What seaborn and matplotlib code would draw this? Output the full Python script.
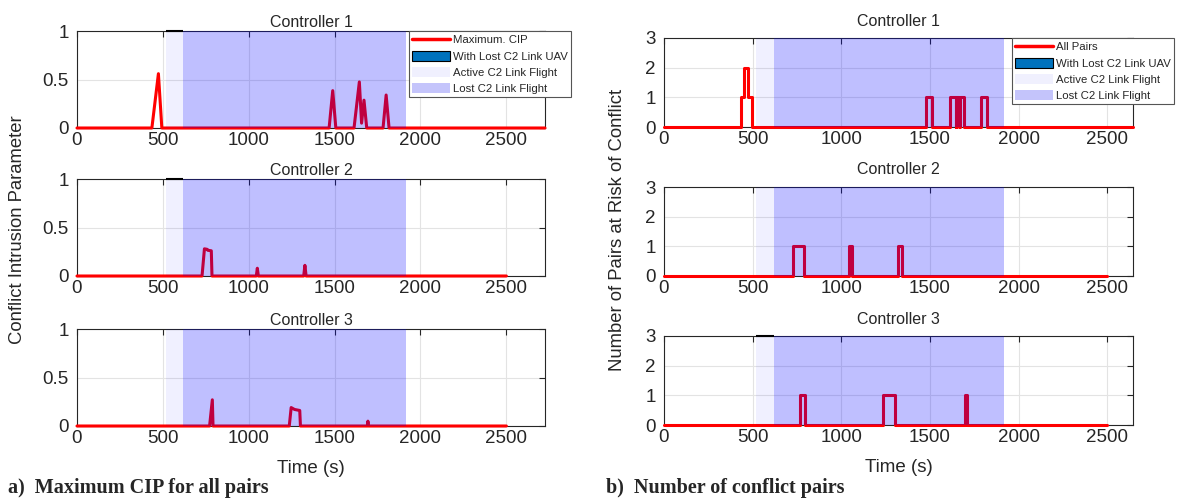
import matplotlib
matplotlib.use("Agg")
import matplotlib.pyplot as plt
from matplotlib.lines import Line2D
from matplotlib.patches import Patch
import seaborn as sns
import pandas as pd

# Flight phases (s)
active_start = 520
lost_start = 620
lost_end = 1916

# a) maximum CIP per controller
cip_t1 = [0, 436, 474, 494, 1468, 1489, 1507, 1613, 1644, 1657, 1671, 1687, 1782, 1800, 1817, 2725]
cip_v1 = [0, 0, 0.56, 0, 0, 0.385, 0, 0, 0.475, 0.05, 0.287, 0, 0, 0.34, 0, 0]
cip_t2 = [0, 728, 742, 758, 762, 782, 786, 1044, 1050, 1056, 1320, 1327, 1334, 2500]
cip_v2 = [0, 0, 0.28, 0.275, 0.265, 0.26, 0, 0, 0.08, 0, 0, 0.11, 0, 0]
cip_t3 = [0, 772, 788, 792, 1236, 1247, 1262, 1268, 1297, 1301, 1690, 1694, 1698, 2500]
cip_v3 = [0, 0, 0.27, 0, 0, 0.19, 0.175, 0.17, 0.16, 0, 0, 0.05, 0, 0]

# b) number of pairs at risk (step changes)
pairs_t1 = [0, 436, 450, 472, 498, 1479, 1513, 1615, 1644, 1648, 1664, 1668, 1692, 1787, 1821, 2645]
pairs_n1 = [0, 1, 2, 1, 0, 1, 0, 1, 0, 1, 0, 1, 0, 1, 0, 0]
pairs_t2 = [0, 728, 790, 1041, 1058, 1320, 1341, 2500]
pairs_n2 = [0, 1, 0, 1, 0, 1, 0, 0]
pairs_t3 = [0, 767, 795, 1235, 1305, 1695, 1708, 2500]
pairs_n3 = [0, 1, 0, 1, 0, 1, 0, 0]

titles = ["Controller 1", "Controller 2", "Controller 3"]
xticks = [0, 500, 1000, 1500, 2000, 2500]

sns.set_style("white")
plt.rcParams['font.family'] = ['Liberation Sans', 'DejaVu Sans']

RED = "#ff0000"
LOST = (0, 0, 1, 0.25)
ACTIVE = (0, 0, 1, 0.06)

fig = plt.figure(figsize=(11.82, 5.01), dpi=100)
W, H = 1182, 501

def px_axes(x0, top, w, h):
    return fig.add_axes([x0 / W, 1 - (top + h) / H, w / W, h / H])

def style(ax, xmax, yticks, ylabels, title, show_black, title_pad):
    ax.axvspan(active_start, lost_start, color=ACTIVE, lw=0, zorder=3)
    ax.axvspan(lost_start, lost_end, color=LOST, lw=0, zorder=3)
    if show_black:
        ax.hlines(yticks[-1], active_start, lost_start, color="black", lw=1.5, zorder=4, clip_on=False)
    ax.set_xlim(0, xmax)
    ax.set_ylim(yticks[0], yticks[-1])
    ax.set_xticks(xticks)
    ax.set_xticklabels([str(v) for v in xticks])
    ax.set_yticks(yticks)
    ax.set_yticklabels(ylabels)
    ax.grid(True, color="#e3e3e3", lw=0.8)
    ax.set_axisbelow(True)
    ax.tick_params(direction="in", top=True, right=True, length=4, width=0.8,
                   labelsize=13.5, colors="#262626")
    ax.tick_params(axis="y", pad=6)
    ax.tick_params(axis="x", pad=3)
    for s in ax.spines.values():
        s.set_visible(True)
        s.set_color("#262626")
        s.set_linewidth(0.8)
    ax.set_title(title, fontsize=11.5, pad=title_pad)
    ax.set_xlabel("")
    ax.set_ylabel("")

def add_legend(ax, first_label, x_anchor):
    handles = [
        Line2D([0], [0], color=RED, lw=2.5),
        Patch(facecolor="#0072BD", edgecolor="black", lw=0.8),
        Patch(facecolor="#f0f0fe", edgecolor="none"),
        Patch(facecolor="#c4c4fb", edgecolor="none"),
    ]
    labels = [first_label, "With Lost C2 Link UAV", "Active C2 Link Flight", "Lost C2 Link Flight"]
    leg = ax.legend(handles, labels, loc="upper left", bbox_to_anchor=(x_anchor, 1.0),
                    fontsize=8.2, frameon=True, fancybox=False, framealpha=1,
                    edgecolor="#555555", handlelength=3.3, handleheight=1.0,
                    handletextpad=0.25, labelspacing=0.45, borderpad=0.3, borderaxespad=0)
    leg.get_frame().set_linewidth(0.8)
    leg.set_zorder(10)

# left column
cip_t = [cip_t1, cip_t2, cip_t3]
cip_v = [cip_v1, cip_v2, cip_v3]
left_tops = [31, 179, 329]
black_left = [True, True, False]
left_axes = []
for i in range(3):
    ax = px_axes(77, left_tops[i], 468, 97)
    df = pd.DataFrame({"t": cip_t[i], "v": cip_v[i]})
    sns.lineplot(data=df, x="t", y="v", ax=ax, color=RED, lw=2.2, sort=False,
                 estimator=None, zorder=2.7, clip_on=False)
    style(ax, 2725, [0, 0.5, 1], ["0", "0.5", "1"], titles[i], black_left[i], 3)
    left_axes.append(ax)
add_legend(left_axes[0], "Maximum. CIP", 0.709)
left_axes[2].set_xlabel("Time (s)", fontsize=13.5, labelpad=9)
fig.text(18 / W, 1 - 230 / H, "Conflict Intrusion Parameter", rotation=90,
         ha="center", va="center", fontsize=13.3)

# right column
pairs_t = [pairs_t1, pairs_t2, pairs_t3]
pairs_n = [pairs_n1, pairs_n2, pairs_n3]
right_tops = [38, 187, 336]
black_right = [False, False, True]
right_axes = []
for i in range(3):
    ax = px_axes(664, right_tops[i], 469, 89)
    df = pd.DataFrame({"t": pairs_t[i], "n": pairs_n[i]})
    sns.lineplot(data=df, x="t", y="n", ax=ax, color=RED, lw=2.2, sort=False,
                 estimator=None, drawstyle="steps-post", zorder=2.7, clip_on=False)
    style(ax, 2645, [0, 1, 2, 3], ["0", "1", "2", "3"], titles[i], black_right[i], 9)
    right_axes.append(ax)
add_legend(right_axes[0], "All Pairs", 0.742)
right_axes[2].set_xlabel("Time (s)", fontsize=13.5, labelpad=9)
fig.text(617 / W, 1 - 230 / H, "Number of Pairs at Risk of Conflict", rotation=90,
         ha="center", va="center", fontsize=13.3)

# panel captions
fig.text(8 / W, 1 - 488 / H, "a)  Maximum CIP for all pairs", ha="left", va="center",
         fontsize=14.5, fontweight="bold", family=["Liberation Serif", "DejaVu Serif"])
fig.text(606 / W, 1 - 488 / H, "b)  Number of conflict pairs", ha="left", va="center",
         fontsize=14.5, fontweight="bold", family=["Liberation Serif", "DejaVu Serif"])

fig.savefig("out.png", dpi=100)
